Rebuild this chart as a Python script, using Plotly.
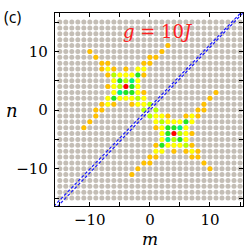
import plotly.graph_objects as go

# lattice sites
grid_m = list(range(-15, 16))
grid_n = list(range(-15, 16))

# colored sites by level
orange_m = [3, -10, 2, -9, 0, 1, -8, -7, -1, 0, -8, -6, -4, -7, -1, -7, -1, -8, -6, -3, -9, -8, -9, -10, -11,
            -3, 10, -2, 9, 0, -1, 8, 7, 1, 0, 8, 6, 4, 7, 1, 7, 1, 8, 6, 3, 9, 8, 9, 10, 11]
orange_n = [11, 10, 10, 9, 9, 9, 8, 8, 8, 8, 7, 7, 7, 6, 6, 4, 3, 1, 1, 1, 0, 0, -1, -2, -3,
            -11, -10, -10, -9, -9, -9, -8, -8, -8, -8, -7, -7, -7, -6, -6, -4, -3, -1, -1, -1, 0, 0, 1, 2, 3]

yellow_m = [-7, -2, -1, -5, -4, -3, -6, -2, -6, -2, -6, -2, -7, -5, -4, -3, -1, -7, -2, -1,
            7, 2, 1, 5, 4, 3, 6, 2, 6, 2, 6, 2, 7, 5, 4, 3, 1, 7, 2, 1]
yellow_n = [7, 7, 7, 6, 6, 6, 5, 5, 4, 4, 3, 3, 2, 2, 2, 2, 2, 1, 1, 1,
            -7, -7, -7, -6, -6, -6, -5, -5, -4, -4, -3, -3, -2, -2, -2, -2, -2, -1, -1, -1]

lime_m = [-6, -4, -5, -2, 0, -1, 6, 4, 5, 2, 0, 1]
lime_n = [6, 5, 4, 2, 1, 0, -6, -5, -4, -2, -1, 0]

green_m = [-2, -5, -3, -4, -3, -6, 2, 5, 3, 4, 3, 6]
green_n = [6, 5, 4, 3, 3, 2, -6, -5, -4, -3, -3, -2]

spring_m = [-3, -5, 3, 5]
spring_n = [5, 3, -5, -3]

red_m = [-4, 4]
red_n = [4, -4]

# dashed guide lines
lineA_m = [-16, 16]
lineA_n = [-16.4, 17.5]
lineB_m = [-16, 16]
lineB_n = [-17.1, 17.1]

tick_vals = [-15, -10, -5, 0, 5, 10, 15]
tick_text = ["", "\u221210", "", "0", "", "10", ""]

fig = go.Figure()

gm = [m for n in grid_n for m in grid_m]
gn = [n for n in grid_n for m in grid_m]
fig.add_trace(go.Scatter(x=gm, y=gn, mode="markers",
                         marker=dict(size=5, color="#c4beb6", line=dict(width=0)),
                         hoverinfo="skip", showlegend=False))

levels = [
    (orange_m, orange_n, "#ffc000"),
    (yellow_m, yellow_n, "#ffff00"),
    (lime_m, lime_n, "#b4ff00"),
    (green_m, green_n, "#22e622"),
    (spring_m, spring_n, "#00f080"),
    (red_m, red_n, "#ff0000"),
]
for xs, ys, col in levels:
    fig.add_trace(go.Scatter(x=xs, y=ys, mode="markers",
                             marker=dict(size=5, color=col, line=dict(width=0)),
                             showlegend=False))

for xs, ys in [(lineA_m, lineA_n), (lineB_m, lineB_n)]:
    fig.add_trace(go.Scatter(x=xs, y=ys, mode="lines",
                             line=dict(color="#1a1aff", width=1.2, dash="3px,2px"),
                             showlegend=False))

axis_common = dict(
    tickvals=tick_vals, ticktext=tick_text,
    ticks="inside", ticklen=4, tickwidth=1.2, tickcolor="black",
    showline=True, linecolor="black", linewidth=1.3, mirror="ticks",
    showgrid=False, zeroline=False, automargin=False,
    tickfont=dict(family="DejaVu Serif", size=15, color="black"),
)

W, H = 249, 249
l, r, t, b = 55, 6, 13, 43
pw, ph = W - l - r, H - t - b


def px2paper(px, py):
    return (px - l) / pw, 1 - (py - t) / ph


def ann(text, px, py, font):
    x, y = px2paper(px, py)
    return dict(text=text, x=x, y=y, xref="paper", yref="paper", showarrow=False,
                xanchor="center", yanchor="middle", font=font)


fig.update_layout(
    width=W, height=H,
    margin=dict(l=l, r=r, t=t, b=b, pad=0, autoexpand=False),
    paper_bgcolor="white", plot_bgcolor="white",
    xaxis=dict(range=[-15.8, 15.5], **axis_common),
    yaxis=dict(range=[-16.35, 16.55], ticklabelstandoff=3, **axis_common),
    annotations=[
        ann("<i>m</i>", 150, 239, dict(family="DejaVu Serif", size=17, color="black")),
        ann("<i>n</i>", 12, 110, dict(family="DejaVu Serif", size=18, color="black")),
        ann("(c)", 12, 17, dict(family="Open Sans", size=16, color="black")),
        ann("<i>g</i> = 10<i>J</i>", 158, 31, dict(family="DejaVu Serif", size=18, color="#ff2020")),
    ],
)

fig.write_html("out.html", config={"displayModeBar": False},
               post_script="document.body.style.margin='0';document.body.style.overflow='hidden';")
